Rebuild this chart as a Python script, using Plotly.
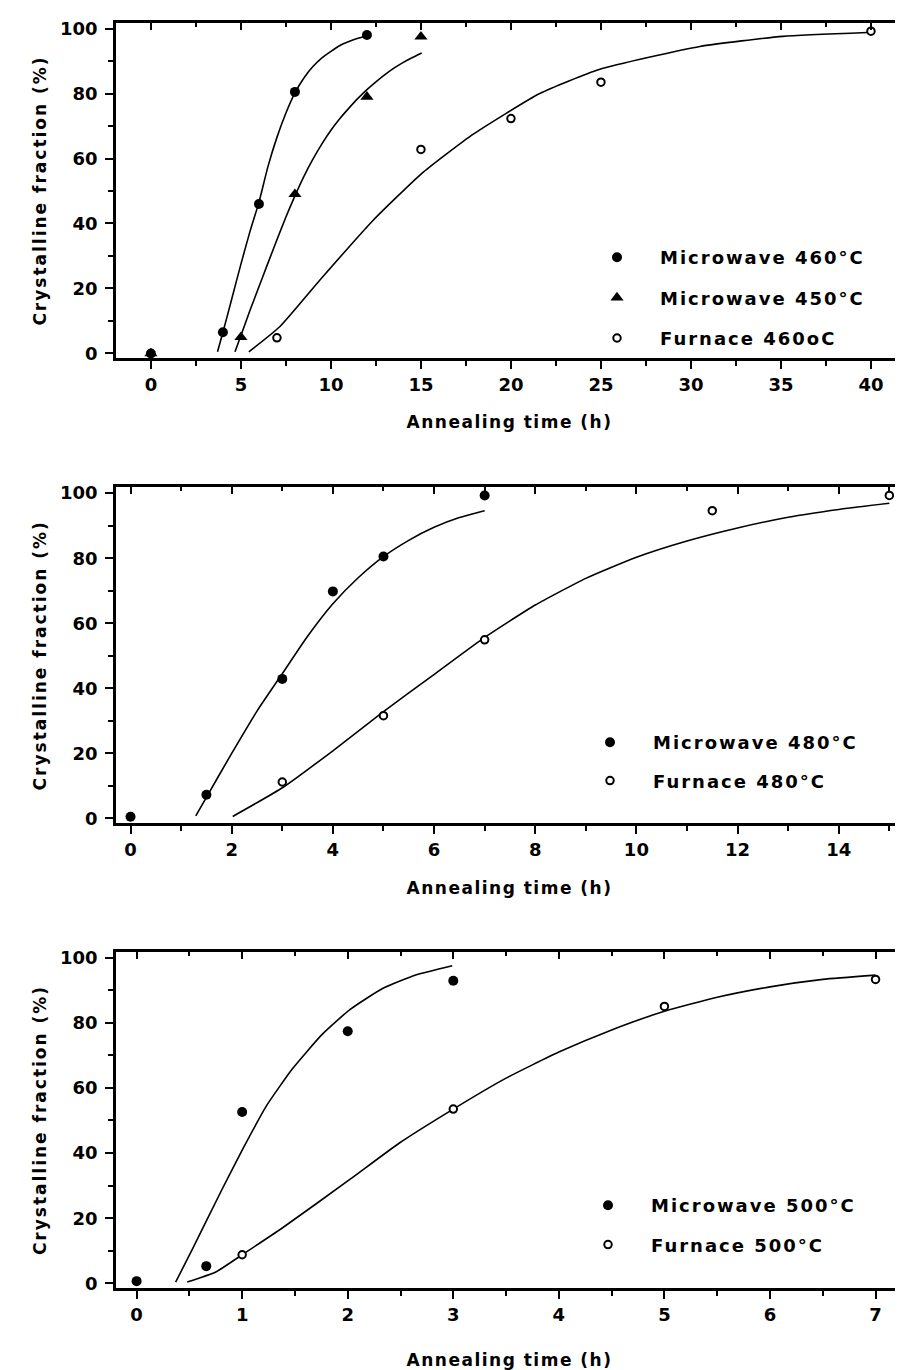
import plotly.graph_objects as go

# ---------------- data ----------------
# Panel 1 : 460 / 450 °C
p1_mw460_t = [0, 4, 6, 8, 12]
p1_mw460_y = [0, 6.5, 46, 80.5, 98]
p1_mw450_t = [0, 5, 8, 12, 15]
p1_mw450_y = [0, 5, 49, 79, 97.5]
p1_fu460_t = [7, 15, 20, 25, 40]
p1_fu460_y = [4.8, 62.8, 72.3, 83.5, 99.2]

p1_mw460_fit_t = [3.7, 4.0, 4.5, 5.0, 5.5, 6.0, 6.5, 7.0, 7.5, 8.0, 8.5, 9.0, 9.5, 10.0, 10.5, 11.0, 11.5, 12.0]
p1_mw460_fit_y = [0.5, 6.5, 17, 27.5, 37.5, 46.5, 57.5, 66.5, 74, 80.2, 84.8, 88.3, 91, 93, 94.8, 96, 97, 97.8]
p1_mw450_fit_t = [4.67, 5.0, 5.5, 6.0, 6.5, 7.0, 7.5, 8.0, 8.5, 9.0, 9.5, 10.0, 10.5, 11.0,
                  11.5, 12.0, 12.5, 13.0, 13.5, 14.0, 14.5, 15.04]
p1_mw450_fit_y = [0.5, 5.5, 13.2, 20.5, 27.8, 35, 42, 48.5, 54.5, 59.8, 64.5, 68.7, 72.3, 75.5,
                  78.5, 81.2, 83.6, 85.8, 87.8, 89.5, 91, 92.5]
p1_fu460_fit_t = [5.44, 7.17, 9.39, 12.35, 15.13, 17.91, 21.6, 24.9, 30.5, 35.1, 39.8]
p1_fu460_fit_y = [0.5, 8.3, 22.6, 41, 55.8, 67.5, 80.0, 87.4, 94.5, 97.6, 98.8]

# Panel 2 : 480 °C
p2_mw480_t = [0, 1.5, 3, 4, 5, 7]
p2_mw480_y = [0.5, 7.3, 42.9, 69.8, 80.5, 99.3]
p2_fu480_t = [3, 5, 7, 11.5, 15]
p2_fu480_y = [11.2, 31.6, 54.9, 94.6, 99.3]

p2_mw480_fit_t = [1.29, 1.5, 2.0, 2.5, 3.0, 3.5, 4.0, 4.5, 5.0, 5.5, 6.0, 6.5, 7.0]
p2_mw480_fit_y = [0.8, 6.5, 20, 33, 44.5, 56, 66, 74, 80.5, 85.5, 89.5, 92.5, 94.6]
p2_fu480_fit_t = [2.02, 3.01, 4.0, 4.98, 5.97, 6.96, 8.0, 9.0, 10.0, 11.0, 12.0, 13.0, 14.0, 15.0]
p2_fu480_fit_y = [0.6, 9.5, 20.8, 32.6, 43.9, 55.2, 65.6, 73.8, 80.3, 85.3, 89.3, 92.6, 95.0, 96.9]

# Panel 3 : 500 °C
p3_mw500_t = [0, 0.66, 1, 2, 3]
p3_mw500_y = [0.7, 5.3, 52.6, 77.4, 92.9]
p3_fu500_t = [1, 3, 5, 7]
p3_fu500_y = [8.8, 53.5, 85, 93.3]

p3_mw500_fit_t = [0.37, 0.53, 0.81, 1.01, 1.23, 1.48, 1.76, 2.02, 2.33, 2.65, 2.99]
p3_mw500_fit_y = [0.4, 10.6, 28.9, 41.5, 54.5, 66, 76.5, 84, 90.5, 94.7, 97.5]
p3_fu500_fit_t = [0.48, 0.75, 1.0, 1.38, 2.02, 2.49, 3.0, 3.5, 4.0, 4.5, 5.0, 5.5, 6.0, 6.5, 7.0]
p3_fu500_fit_y = [0.4, 3.5, 8.8, 17, 31.9, 43.1, 53.5, 63, 71, 77.8, 83.5, 87.8, 91, 93.3, 94.6]

# axis ranges / ticks
x_ranges = [[-1.94, 41.78], [-0.287, 15.27], [-0.195, 7.26]]
x_dticks = [5, 2, 1]
x_minor = [2.5, 1, 0.5]
y_range = [-1.5, 101.8]

x_title = "Annealing time (h)"
y_title = "Crystalline fraction (%)"

FONT = "DejaVu Sans"
BLACK = "black"
# the page body adds an 8 px offset: build a 895x1362 figure shifted by 8 px
OFF = 8
W, H = 903 - OFF, 1370 - OFF


def fy(py):
    return 1 - (py - OFF) / H


def fx(px):
    return (px - OFF) / W


y_domains = [[fy(358.3), fy(22.7)], [fy(823.3), fy(487.3)], [fy(1288.3), fy(951.7)]]
x_domain = [fx(116), 1.0]
x_title_standoff = [23, 24, 40]


def sp(text, ls):
    return '<span style="letter-spacing:%spx">%s</span>' % (ls, text)


fig = go.Figure()

filled = dict(color=BLACK, size=10, symbol="circle")
tri = dict(color=BLACK, size=11.5, symbol="triangle-up")
opened = dict(color="white", size=7.5, symbol="circle", line=dict(color=BLACK, width=2))
fitline = dict(color=BLACK, width=1.6, shape="spline", smoothing=0.5)


def pts(t, y, marker, name, xa, ya, legend):
    fig.add_trace(go.Scatter(x=t, y=y, mode="markers", marker=marker,
                             name=sp(name, 2), xaxis=xa, yaxis=ya,
                             legend=legend, legendgroup=name))


def fit(t, y, xa, ya):
    fig.add_trace(go.Scatter(x=t, y=y, mode="lines", line=fitline,
                             showlegend=False, xaxis=xa, yaxis=ya, hoverinfo="skip"))


# panel 1
fit(p1_mw460_fit_t, p1_mw460_fit_y, "x", "y")
fit(p1_mw450_fit_t, p1_mw450_fit_y, "x", "y")
fit(p1_fu460_fit_t, p1_fu460_fit_y, "x", "y")
pts(p1_mw460_t, p1_mw460_y, filled, "Microwave 460°C", "x", "y", "legend")
pts(p1_mw450_t, p1_mw450_y, tri, "Microwave 450°C", "x", "y", "legend")
pts(p1_fu460_t, p1_fu460_y, opened, "Furnace 460oC", "x", "y", "legend")
# panel 2
fit(p2_mw480_fit_t, p2_mw480_fit_y, "x2", "y2")
fit(p2_fu480_fit_t, p2_fu480_fit_y, "x2", "y2")
pts(p2_mw480_t, p2_mw480_y, filled, "Microwave 480°C", "x2", "y2", "legend2")
pts(p2_fu480_t, p2_fu480_y, opened, "Furnace 480°C", "x2", "y2", "legend2")
# panel 3
fit(p3_mw500_fit_t, p3_mw500_fit_y, "x3", "y3")
fit(p3_fu500_fit_t, p3_fu500_fit_y, "x3", "y3")
pts(p3_mw500_t, p3_mw500_y, filled, "Microwave 500°C", "x3", "y3", "legend3")
pts(p3_fu500_t, p3_fu500_y, opened, "Furnace 500°C", "x3", "y3", "legend3")

tickfont = dict(family=FONT, size=18, color=BLACK, weight="bold")
titlefont = dict(family=FONT, size=17, color=BLACK, weight="bold")

layout = dict(
    width=W, height=H, margin=dict(l=0, r=0, t=0, b=0),
    paper_bgcolor="white", plot_bgcolor="white", showlegend=True,
    font=dict(family=FONT, color=BLACK),
)

for i in range(3):
    n = i + 1
    xs = "" if n == 1 else str(n)
    xk, yk = "xaxis" + xs, "yaxis" + xs
    xr, yr = "x" + xs, "y" + xs
    layout[xk] = dict(
        domain=x_domain, range=x_ranges[i], anchor=yr, showgrid=False, zeroline=False,
        showline=True, linewidth=2.5, linecolor=BLACK, mirror=True,
        ticks="outside", ticklen=8, tickwidth=2, tickcolor=BLACK,
        tick0=0, dtick=x_dticks[i], tickfont=tickfont, ticklabelstandoff=0,
        minor=dict(tick0=0, dtick=x_minor[i], ticks="outside", ticklen=5,
                   tickwidth=1.5, tickcolor=BLACK),
        title=dict(text=sp(x_title, 1.5), font=titlefont, standoff=x_title_standoff[i]),
        automargin=False,
    )
    layout[yk] = dict(
        domain=y_domains[i], range=y_range, anchor=xr, showgrid=False, zeroline=False,
        showline=True, linewidth=2.5, linecolor=BLACK, mirror=True,
        ticks="outside", ticklen=8, tickwidth=2, tickcolor=BLACK,
        tick0=0, dtick=20, tickfont=tickfont, ticklabelstandoff=4,
        minor=dict(tick0=0, dtick=10, ticks="outside", ticklen=5,
                   tickwidth=1.5, tickcolor=BLACK),
        title=dict(text=sp(y_title, 2), font=titlefont, standoff=10),
        automargin=False,
    )
    # inner ticks on top / right frame
    tx, ty = "xaxis" + str(3 + n), "yaxis" + str(3 + n)
    layout[tx] = dict(
        overlaying=xr, side="top", anchor=yr, range=x_ranges[i], showgrid=False,
        zeroline=False, showline=False, showticklabels=False,
        ticks="inside", ticklen=7, tickwidth=2, tickcolor=BLACK, tick0=0, dtick=x_dticks[i],
        minor=dict(tick0=0, dtick=x_minor[i], ticks="inside", ticklen=4,
                   tickwidth=1.5, tickcolor=BLACK),
    )
    layout[ty] = dict(
        overlaying=yr, side="right", anchor=xr, range=y_range, showgrid=False,
        zeroline=False, showline=False, showticklabels=False,
        ticks="inside", ticklen=7, tickwidth=2, tickcolor=BLACK, tick0=0, dtick=20,
        minor=dict(tick0=0, dtick=10, ticks="inside", ticklen=4,
                   tickwidth=1.5, tickcolor=BLACK),
    )
    fig.add_trace(go.Scatter(x=[], y=[], xaxis="x" + str(3 + n), yaxis=yr,
                             showlegend=False, hoverinfo="skip"))
    fig.add_trace(go.Scatter(x=[], y=[], xaxis=xr, yaxis="y" + str(3 + n),
                             showlegend=False, hoverinfo="skip"))

legfont = dict(family=FONT, size=18, color=BLACK, weight="bold")
leg_common = dict(xanchor="left", yanchor="top", bgcolor="rgba(0,0,0,0)",
                  borderwidth=0, font=legfont, itemwidth=76,
                  traceorder="grouped")
layout["legend"] = dict(x=fx(616 - 42), y=fy(257 - 18), tracegroupgap=14, **leg_common)
layout["legend2"] = dict(x=fx(609 - 42), y=fy(742 - 18), tracegroupgap=12, **leg_common)
layout["legend3"] = dict(x=fx(607 - 42), y=fy(1205 - 18), tracegroupgap=13, **leg_common)

fig.update_layout(**layout)
fig.write_html("out.html")
